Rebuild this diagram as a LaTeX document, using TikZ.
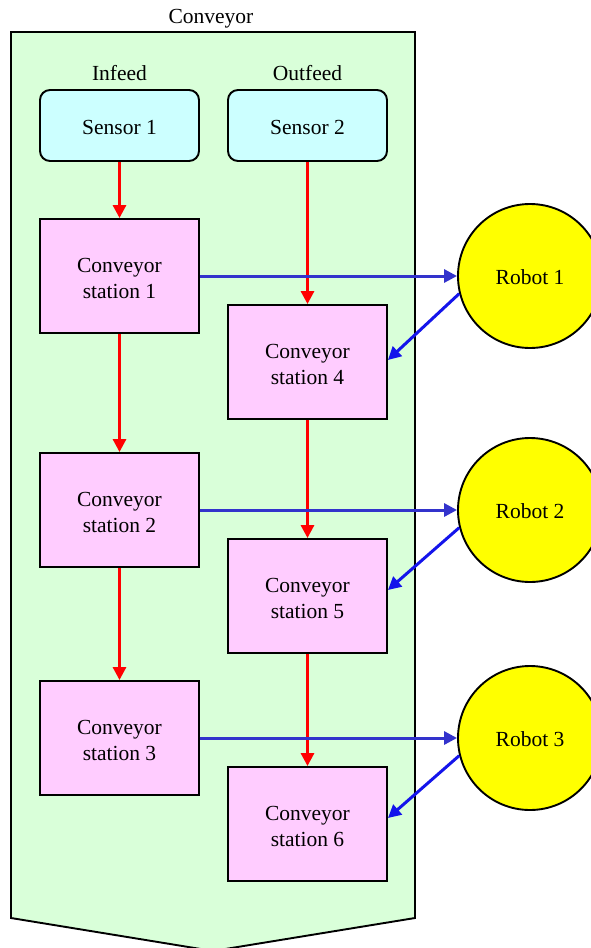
\documentclass[tikz,border=0pt]{standalone}
\usepackage{fontspec}
\newfontfamily\labelfont{Liberation Serif}
\usetikzlibrary{arrows.meta}
\definecolor{beltgreen}{RGB}{217,255,217}
\definecolor{sensorcyan}{RGB}{204,255,255}
\definecolor{stationpink}{RGB}{255,204,255}
\definecolor{robotyellow}{RGB}{255,255,0}
\definecolor{flowred}{RGB}{255,0,0}
\definecolor{feedblue}{RGB}{51,51,204}
\definecolor{returnblue}{RGB}{20,20,235}
\tikzset{
  every node/.style={font=\labelfont\fontsize{21.5}{26}\selectfont},
  sensorbox/.style={draw, line width=1.9pt, fill=sensorcyan, rounded corners=10pt,
    minimum width=159pt, minimum height=71pt, inner sep=0pt, text height=18pt},
  stationbox/.style={draw, line width=1.9pt, fill=stationpink,
    minimum width=159pt, minimum height=114pt, inner sep=0pt, align=center,
    text height=45.5pt},
  robotdisc/.style={draw, line width=1.9pt, fill=robotyellow, circle,
    minimum size=144pt, inner sep=0pt, text height=18pt},
  flowarrow/.style={draw=flowred, line width=3pt,
    -{Triangle[length=13pt,width=13pt]}},
  feedarrow/.style={draw=feedblue, line width=3pt,
    -{Triangle[length=13pt,width=13pt]}},
  returnarrow/.style={draw=returnblue, line width=3pt,
    -{Triangle[length=13pt,width=13pt]}},
}
\begin{document}
\begin{tikzpicture}[x=1pt, y=-1pt]
\useasboundingbox (0,0) rectangle (591,948);
\begin{scope}
\clip (0,0) rectangle (591,948);
% conveyor belt outline
\draw[line width=1.9pt, fill=beltgreen]
  (11,32) -- (415,32) -- (415,918) -- (213,951) -- (11,918) -- cycle;
\node (title) at (211,19) {Conveyor};
\node (infeed) at (119.5,73) {Infeed};
\node (outfeed) at (307.5,73) {Outfeed};

% sensors
\node[sensorbox] (s1) at (119.5,125.5) {Sensor 1};
\node[sensorbox] (s2) at (307.5,125.5) {Sensor 2};

% stations
\node[stationbox] (st1) at (119.5,276) {Conveyor\\station 1};
\node[stationbox] (st2) at (119.5,510) {Conveyor\\station 2};
\node[stationbox] (st3) at (119.5,738) {Conveyor\\station 3};
\node[stationbox] (st4) at (307.5,362) {Conveyor\\station 4};
\node[stationbox] (st5) at (307.5,596) {Conveyor\\station 5};
\node[stationbox] (st6) at (307.5,824) {Conveyor\\station 6};

% robots
\node[robotdisc] (r1) at (530,276) {Robot 1};
\node[robotdisc] (r2) at (530,510) {Robot 2};
\node[robotdisc] (r3) at (530,738) {Robot 3};

% product flow
\draw[flowarrow] (s1) -- (st1);
\draw[flowarrow] (st1) -- (st2);
\draw[flowarrow] (st2) -- (st3);
\draw[flowarrow] (s2) -- (st4);
\draw[flowarrow] (st4) -- (st5);
\draw[flowarrow] (st5) -- (st6);

% hand-off to robots and back
\draw[feedarrow] (st1.east) -- (r1.west);
\draw[feedarrow] (st2.east) -- (r2.west);
\draw[feedarrow] (st3.east) -- (r3.west);
\draw[returnarrow] (r1.194) -- ([yshift=2pt]st4.east);
\draw[returnarrow] (r2.194) -- ([yshift=6pt]st5.east);
\draw[returnarrow] (r3.194) -- ([yshift=6pt]st6.east);
\end{scope}
\end{tikzpicture}
\end{document}
